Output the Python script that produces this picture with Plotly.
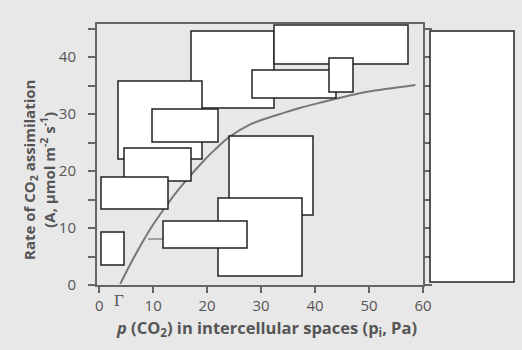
import plotly.graph_objects as go

# Data
pi_pa = [3.9, 5.8, 8.2, 9.8, 11.9, 14.4, 16.9, 18.7, 20.3, 21.5, 24.0, 28.0, 34.2, 37.3, 41.0, 43.5, 49.7, 58.6]
a_rate = [0.2, 3.7, 7.8, 10.3, 13.2, 16.4, 19.2, 21.1, 22.7, 23.8, 25.9, 28.2, 30.2, 31.1, 32.0, 32.6, 33.9, 35.1]
x_ticks = [0, 10, 20, 30, 40, 50, 60]
y_ticks = [0, 10, 20, 30, 40]
gamma_x = 3.6

W, H = 522, 350
L, R, T, B = 97, 423, 24, 285  # plot area in px

# Blank label boxes (pixel layout of the reference)
boxes_px = [
    (191, 31, 274, 108),
    (274, 25, 408, 64),
    (252, 70, 336, 98),
    (329, 58, 353, 92),
    (118, 81, 202, 159),
    (152, 109, 218, 142),
    (124, 148, 191, 181),
    (101, 177, 168, 209),
    (229, 136, 313, 215),
    (218, 198, 302, 276),
    (163, 221, 247, 248),
    (101, 232, 124, 265),
    (430, 31, 514, 282),
]

def px2paper_x(px):
    return (px - L) / (R - L)

def px2paper_y(py):
    return (B - py) / (B - T)

fig = go.Figure()
fig.add_trace(go.Scatter(x=pi_pa, y=a_rate, mode="lines",
                         line=dict(color="#777777", width=2, shape="spline", smoothing=0.8),
                         hoverinfo="skip", showlegend=False))

shapes = []
# small leader lines
shapes.append(dict(type="line", xref="paper", yref="paper",
                   x0=px2paper_x(148), x1=px2paper_x(163), y0=px2paper_y(239), y1=px2paper_y(239),
                   line=dict(color="#888888", width=1.5)))
shapes.append(dict(type="line", xref="paper", yref="paper",
                   x0=px2paper_x(335), x1=px2paper_x(335), y0=px2paper_y(92), y1=px2paper_y(98),
                   line=dict(color="#555555", width=1.5)))
for (x0, y0, x1, y1) in boxes_px:
    shapes.append(dict(type="rect", xref="paper", yref="paper",
                       x0=px2paper_x(x0), x1=px2paper_x(x1),
                       y0=px2paper_y(y1), y1=px2paper_y(y0),
                       fillcolor="white", line=dict(color="#222222", width=1.5), layer="above"))

font_family = "Open Sans"
tick_font = dict(family=font_family, size=15, color="#555555")

fig.update_layout(
    width=W, height=H,
    margin=dict(l=L, r=W - R, t=T, b=H - B, pad=0),
    paper_bgcolor="#e8e8e8", plot_bgcolor="#e8e8e8",
    shapes=shapes,
    xaxis=dict(range=[-0.4, 60], tickvals=x_ticks, ticktext=[str(v) for v in x_ticks],
               showgrid=False, zeroline=False, showline=True, mirror=True,
               linecolor="#666666", linewidth=2, ticks="outside", ticklen=6, tickwidth=2,
               tickcolor="#666666", tickfont=tick_font, ticklabelstandoff=0),
    yaxis=dict(range=[0, 45.8], tickvals=y_ticks, ticktext=[str(v) for v in y_ticks],
               showgrid=False, zeroline=False, showline=True, mirror="ticks",
               linecolor="#666666", linewidth=2, ticks="outside", ticklen=7, tickwidth=2,
               tickcolor="#666666", tickfont=tick_font, ticklabelstandoff=9,
               minor=dict(dtick=5, tick0=0, ticks="outside", ticklen=7, tickwidth=2,
                          tickcolor="#666666", showgrid=False)),
    annotations=[
        dict(x=gamma_x, y=0, xref="x", yref="y", text="Γ", showarrow=False,
             yanchor="top", yshift=-4, font=dict(family="Liberation Serif", size=17, color="#555555")),
        dict(x=px2paper_x(266), y=px2paper_y(328), xref="paper", yref="paper",
             text="<b><i>p</i> (CO<sub>2</sub>) in intercellular spaces (p<sub>i</sub>, Pa)</b>",
             showarrow=False, xanchor="center", yanchor="middle",
             font=dict(family=font_family, size=16.5, color="#555555")),
        dict(x=px2paper_x(39), y=px2paper_y(170), xref="paper", yref="paper",
             text="<b>Rate of CO<sub>2</sub> assimilation<br>(A, μmol m<sup>-2</sup> s<sup>-1</sup>)</b>",
             showarrow=False, textangle=-90, xanchor="center", yanchor="middle",
             font=dict(family=font_family, size=15, color="#555555")),
    ],
)

fig.write_html("out.html")
